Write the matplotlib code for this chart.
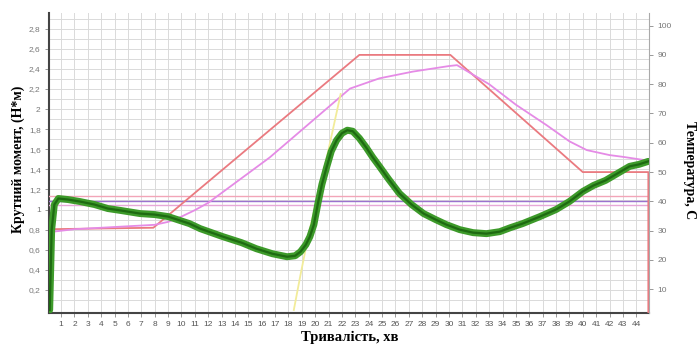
import matplotlib.pyplot as plt

# torque curve (minutes, N*m)
torque_t = [0.15, 0.3, 0.5, 0.8, 1.5, 2.4, 3.5, 4.5, 5.5, 6.9, 8, 9, 10.6, 11.4, 13.1, 14.5,
            15.6, 16.8, 17.9, 18.5, 18.9, 19.3, 19.6, 19.9, 20.2, 20.5, 20.85, 21.2, 21.6,
            22.0, 22.4, 22.8, 23.3, 23.8, 24.3, 24.8, 25.5, 26.3, 27.2, 28.1, 29.0, 29.8,
            30.8, 31.8, 32.8, 33.8, 34.6, 35.5, 36.8, 38, 39, 40, 40.8, 41.7, 42.6, 43.5,
            44.2, 44.9]
torque = [0.0, 0.8, 1.05, 1.11, 1.10, 1.08, 1.05, 1.01, 0.99, 0.96, 0.95, 0.93, 0.86, 0.81,
          0.73, 0.67, 0.61, 0.56, 0.53, 0.54, 0.58, 0.65, 0.73, 0.85, 1.06, 1.25, 1.42, 1.58,
          1.69, 1.76, 1.79, 1.78, 1.71, 1.62, 1.52, 1.43, 1.30, 1.16, 1.05, 0.96, 0.90, 0.85,
          0.80, 0.77, 0.76, 0.78, 0.82, 0.86, 0.93, 1.0, 1.08, 1.18, 1.24, 1.29, 1.36, 1.43,
          1.45, 1.48]

# set temperature (red)
set_t = [0.1, 7.9, 23.3, 30.1, 40.0, 44.9, 44.9]
set_temp = [30.5, 31, 90, 90, 50, 50, 0]

# measured temperature (magenta)
meas_t = [0.1, 2, 8, 9, 10, 11, 12, 16.6, 22.6, 24.8, 27.3, 30, 30.6, 33, 35, 37.3, 39,
          40.3, 42, 43, 44.9]
meas_temp = [29.5, 30.5, 32, 33, 34.8, 37, 39.5, 55, 78.5, 82, 84.3, 86.2, 86.5, 80, 73,
             66, 60.5, 57.5, 55.8, 55.2, 53.9]

# yellow curve
yel_t = [18.4, 18.9, 19.5, 20.3, 21.0, 21.9]
yel = [0.0, 0.35, 0.75, 1.2, 1.6, 2.15]

# horizontal reference lines (temperature)
ref_lines = [41.7, 40.2, 38.8]
ref_colors = ["#f2a5b8", "#9b72cf", "#e7a8d8"]

x_ticks = list(range(1, 45))
left_ticks = [0.2, 0.4, 0.6, 0.8, 1, 1.2, 1.4, 1.6, 1.8, 2, 2.2, 2.4, 2.6, 2.8]
right_ticks = [10, 20, 30, 40, 50, 60, 70, 80, 90, 100]

fig = plt.figure(figsize=(6.98, 3.46), dpi=100)
ax = fig.add_axes([0.0702, 0.0954, 0.8596, 0.867])
ax.set_xlim(0.1, 44.95)
ax.set_ylim(-0.03, 2.957)

for x in x_ticks:
    ax.axvline(x, color="#dadada", lw=0.7, zorder=0)
for i in range(1, 30):
    ax.axhline(i * 0.1, color="#dadada", lw=0.7, zorder=0)

ax.set_xticks(x_ticks)
ax.set_xticklabels([str(v) for v in x_ticks], fontsize=6, color="#555555",
                   family="Liberation Sans")
ax.set_yticks(left_ticks)
ax.set_yticklabels([f"{v:g}".replace(".", ",") for v in left_ticks], fontsize=6,
                   color="#777777", family="Liberation Sans")
ax.tick_params(length=3, width=0.6, color="#888888", pad=3)
for s in ["left", "bottom"]:
    ax.spines[s].set_color("#444444")
    ax.spines[s].set_linewidth(1.5)
ax.spines["top"].set_visible(False)
ax.spines["right"].set_visible(False)

ax.set_xlabel("Тривалість, хв", family="Liberation Serif", fontweight="bold",
              fontsize=10.5, va="center", ha="center")
ax.xaxis.set_label_coords(0.502, -0.08)
ax.set_ylabel("Крутний момент, (Н*м)", family="Liberation Serif", fontweight="bold",
              fontsize=10, va="center", ha="center")
ax.yaxis.set_label_coords(-0.052, 0.513)

ax2 = ax.twinx()
ax2.set_ylim(1.9, 104.3)
ax2.set_yticks(right_ticks)
ax2.set_yticklabels([str(v) for v in right_ticks], fontsize=6, color="#777777",
                    family="Liberation Sans")
ax2.tick_params(length=3, width=0.6, color="#888888", pad=3)
for s in ["left", "bottom", "top"]:
    ax2.spines[s].set_visible(False)
ax2.spines["right"].set_color("#aaaaaa")
ax2.spines["right"].set_linewidth(0.8)
ax2.set_ylabel("Температура, С", family="Liberation Serif", fontweight="bold",
               fontsize=10, rotation=-90, va="center", ha="center")
ax2.yaxis.set_label_coords(1.068, 0.477)

for val, col in zip(ref_lines, ref_colors):
    ax2.axhline(val, color=col, lw=1.0)
ax2.plot(set_t, set_temp, color="#ea7a80", lw=1.3)
ax2.plot(meas_t, meas_temp, color="#e58be6", lw=1.3)

ax3 = ax.twinx()
ax3.set_ylim(ax.get_ylim())
ax3.axis("off")
ax3.plot(yel_t, yel, color="#f2ec9a", lw=1.3)
ax3.plot(torque_t, torque, color="#3d9a2a", lw=5, solid_capstyle="round")
ax3.plot(torque_t, torque, color="#1e6a12", lw=1.6)

plt.savefig("out.png", dpi=100)
